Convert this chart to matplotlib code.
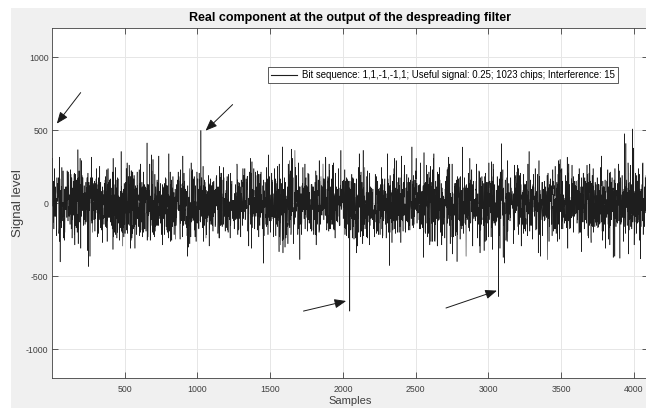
import numpy as np
import matplotlib.pyplot as plt
from matplotlib.patches import Rectangle

n_samples = 4096
n_chips = 1023
bit_sequence = [1, 1, -1, -1, 1]
useful_signal = 0.25
interference = 15

# correlation peaks, one per bit
peak_samples = [1, 1024, 2047, 3070, 4093]
peak_levels = [500, 500, -740, -640, 500]

# largest excursions of the interference residue
burst_samples = [57, 179, 251, 654, 1453, 1670, 1704, 1986, 2320,
                 2784, 2821, 3089, 3903, 3935, 3990, 4045]
burst_levels = [-402, 368, -434, 414, -411, 363, -386, 363, -427,
                -400, 386, 409, -377, 477, 510, -381]

# arrows pointing at the peaks: (tail x, tail y, tip x, tip y)
arrow_tails = [(198, 759), (1242, 677), (1729, -739), (2708, -718)]
arrow_tips = [(34, 546), (1056, 498), (2022, -670), (3058, -599)]


def lfsr(taps, length):
    state = [1] * max(taps)
    out = np.empty(length)
    for i in range(length):
        out[i] = state[-1]
        fb = 0
        for t in taps:
            fb ^= state[t - 1]
        state = [fb] + state[:-1]
    return 2 * out - 1


# spreading code and interferer chips, interferer passed through the despreading filter
code = lfsr([10, 3], n_chips)
interf_chips = lfsr([13, 4, 3, 1], n_samples + n_chips - 1)
noise_gain = 125 / np.sqrt(n_chips)
level = np.convolve(interf_chips, code[::-1], mode='valid') * noise_gain
level[np.array(burst_samples) - 1] = burst_levels
level[np.array(peak_samples) - 1] = peak_levels
samples = np.arange(1, n_samples + 1)

plt.rcParams['font.family'] = ['Liberation Sans', 'DejaVu Sans']
plt.rcParams['axes.unicode_minus'] = False

fig = plt.figure(figsize=(6.46, 4.08), dpi=100, facecolor='white')
fig.patches.append(Rectangle((11 / 646, 0), 1, 1 - 8 / 408, transform=fig.transFigure,
                             facecolor='#f0f0f0', edgecolor='none', zorder=-10))
ax = fig.add_axes([52 / 646, 1 - 378.3 / 408, 596 / 646, 350 / 408])
ax.set_facecolor('white')

ax.plot(samples, level, color='#1e1e1e', lw=0.4, label='Bit sequence: ' + ','.join(str(b) for b in bit_sequence)
        + f'; Useful signal: {useful_signal}; {n_chips} chips; Interference: {interference}')

for (tx, ty), (hx, hy) in zip(arrow_tails, arrow_tips):
    ax.annotate('', xy=(hx, hy), xytext=(tx, ty),
                arrowprops=dict(arrowstyle='-|>,head_length=0.7,head_width=0.28',
                                color='#1a1a1a', lw=0.7, mutation_scale=10, shrinkA=0, shrinkB=0))

ax.set_xlim(1, 4096)
ax.set_ylim(-1200, 1200)
ax.set_xticks([500, 1000, 1500, 2000, 2500, 3000, 3500, 4000])
ax.set_yticks([-1000, -500, 0, 500, 1000])
ax.grid(True, color='#e6e6e6', lw=0.7)
ax.set_axisbelow(True)
ax.tick_params(direction='in', length=4, width=0.6, colors='#404040', labelsize=6.3,
               top=True, right=True)
ax.tick_params(axis='x', pad=5)
ax.tick_params(axis='y', pad=2.5)
for s in ax.spines.values():
    s.set_color('#404040')
    s.set_linewidth(0.6)

ax.set_title('Real component at the output of the despreading filter', fontsize=9,
             fontweight='bold', color='black', pad=5)
ax.set_xlabel('Samples', fontsize=8, color='#404040', labelpad=1)
ax.set_ylabel('Signal level', fontsize=9.5, color='#404040')
ax.yaxis.set_label_coords(-0.047, 0.5)

leg = ax.legend(loc='upper right', bbox_to_anchor=(0.958, 0.904), fontsize=6.9,
                fancybox=False, framealpha=1, edgecolor='#404040', handlelength=2.7,
                borderpad=0.35, handletextpad=0.5)
leg.get_frame().set_linewidth(0.6)
leg.get_lines()[0].set_linewidth(0.8)

fig.savefig('out.png', dpi=100, facecolor=fig.get_facecolor())
